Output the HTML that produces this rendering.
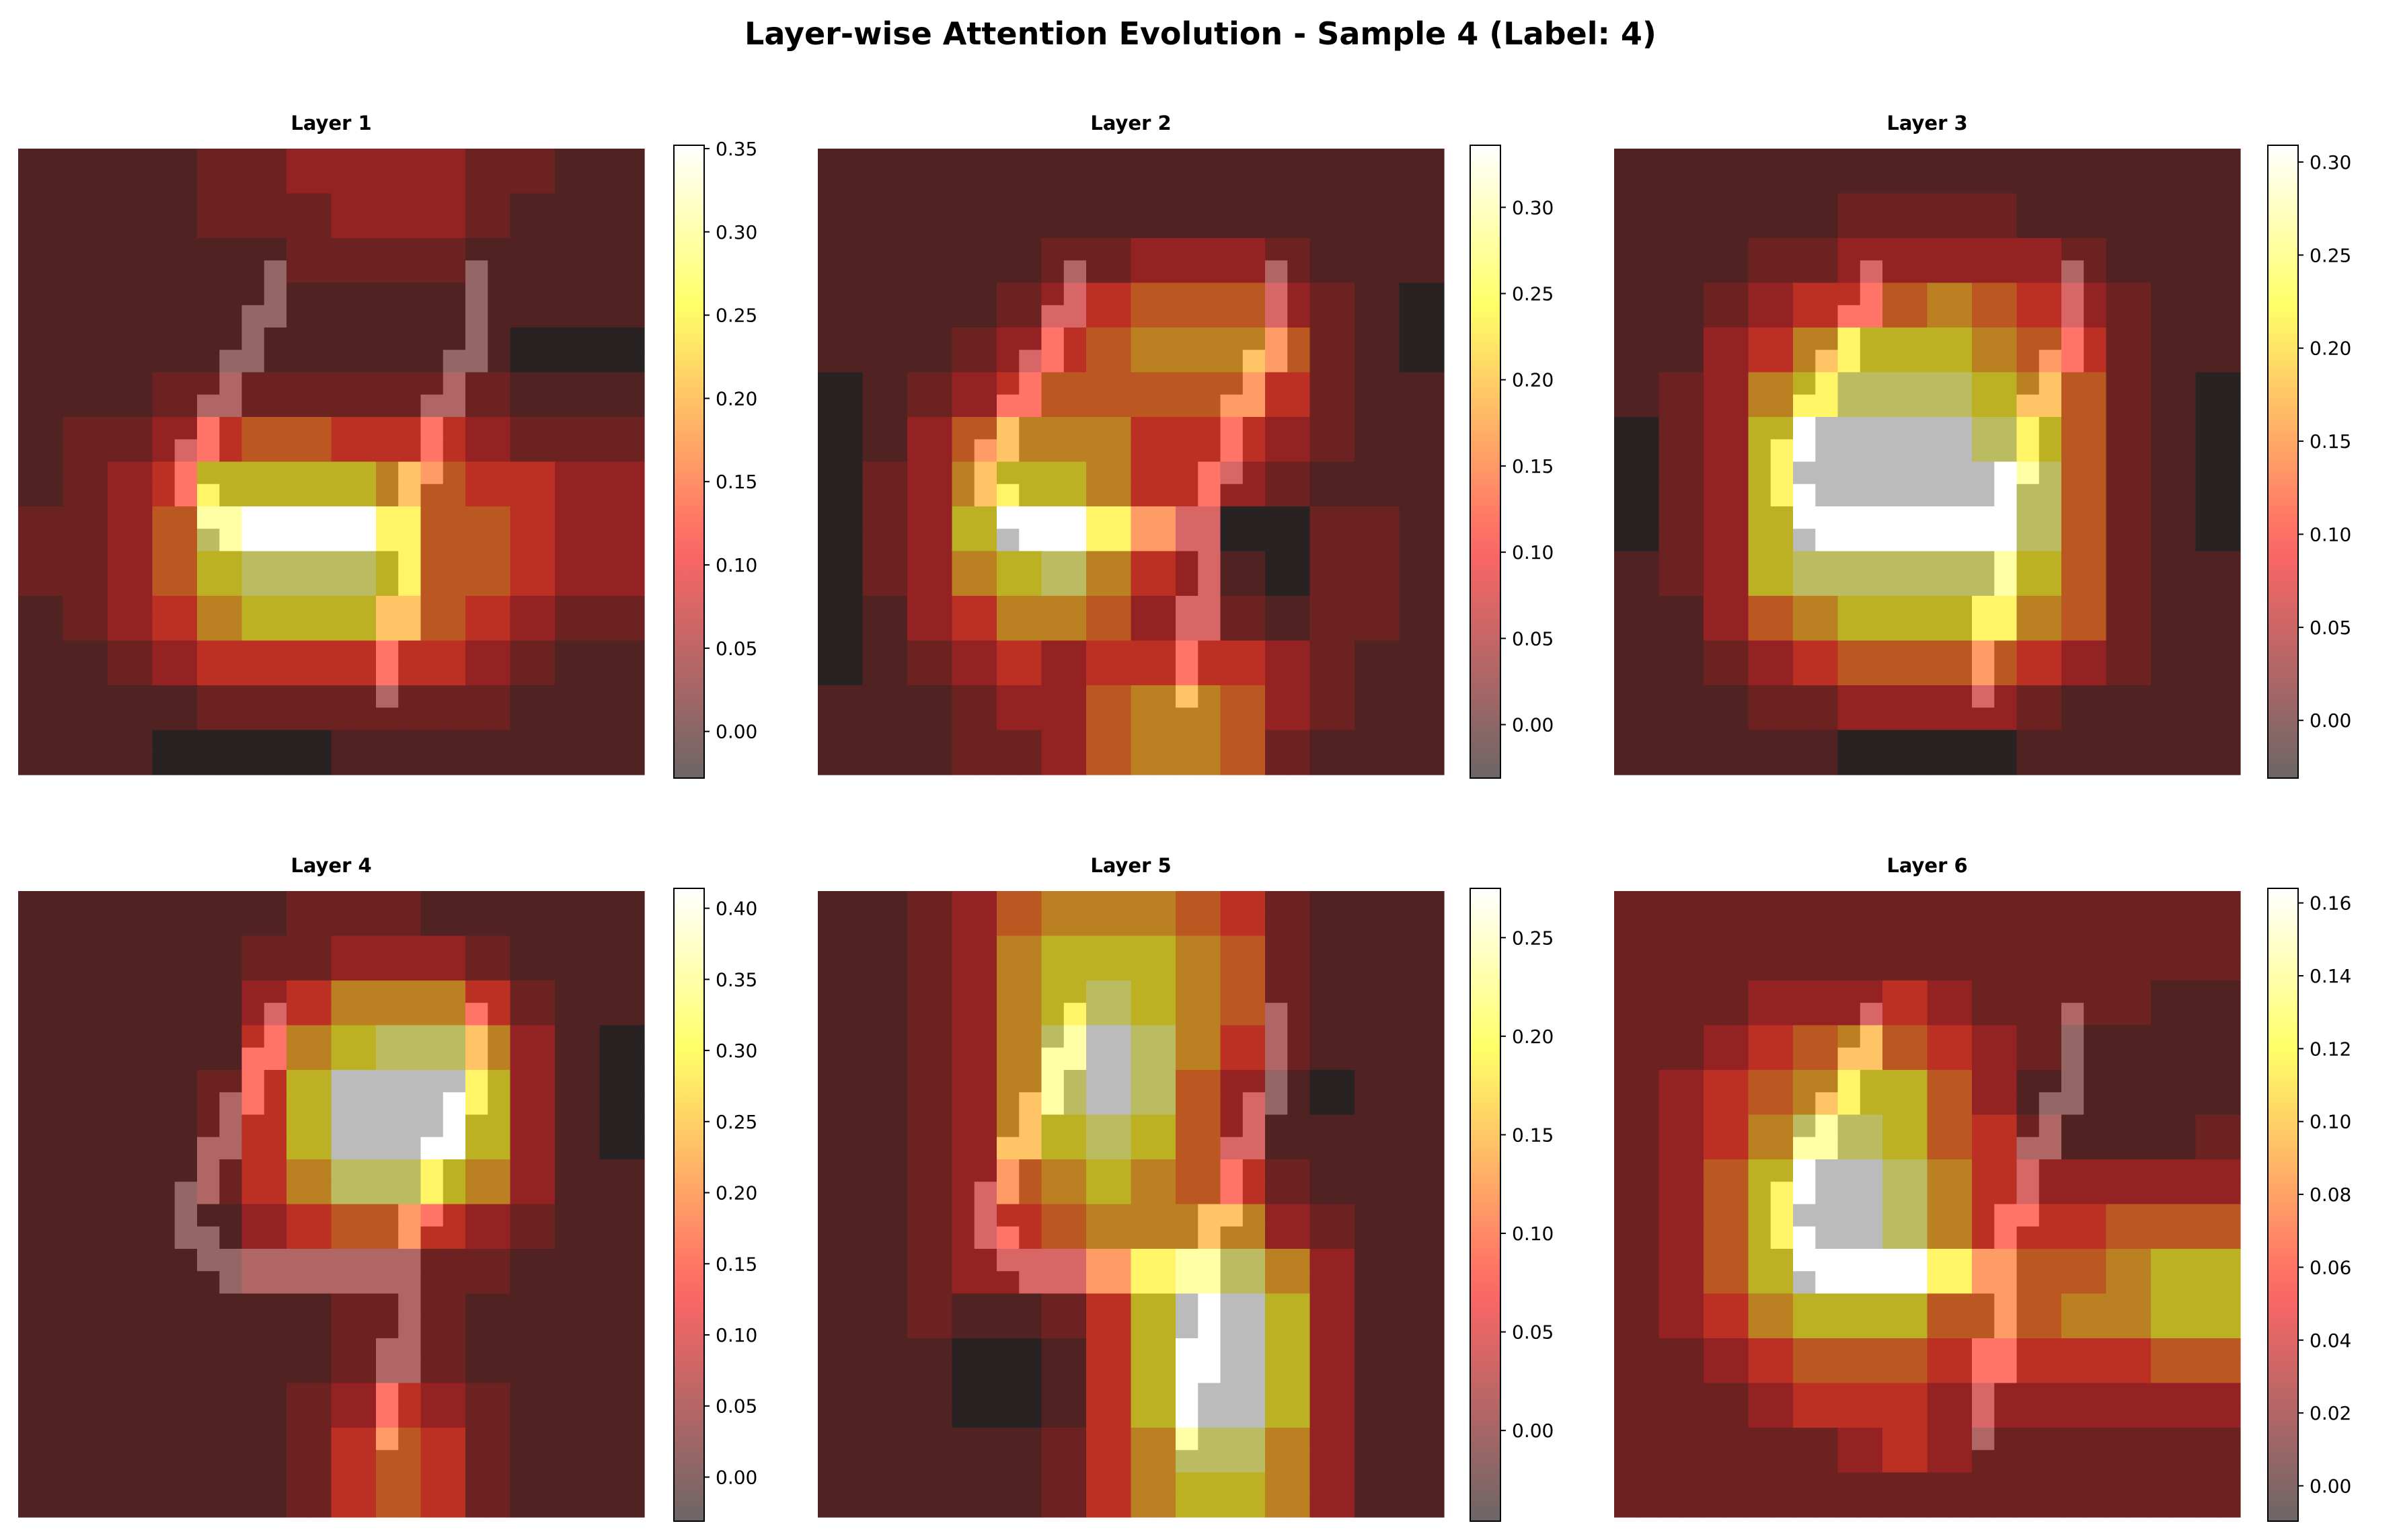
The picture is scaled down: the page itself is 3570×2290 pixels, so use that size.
<!DOCTYPE html>
<html><head><meta charset="utf-8"><style>
html,body{margin:0;padding:0;background:#fff;}
svg{display:block;font-family:"DejaVu Sans","Liberation Sans",sans-serif;}
</style></head><body>
<svg id="fig" width="3570" height="2290" viewBox="0 0 3570 2290" xmlns="http://www.w3.org/2000/svg">
<text x="1785" y="66" text-anchor="middle" font-size="46" font-weight="bold">Layer-wise Attention Evolution - Sample 4 (Label: 4)</text>
<defs id="defs"></defs>
</svg>
<script>
const layerTitles=["Layer 1","Layer 2","Layer 3","Layer 4","Layer 5","Layer 6"];
const vmins=[-0.028,-0.031,-0.031,-0.031,-0.046,-0.0097];
const vmaxs=[0.352,0.336,0.309,0.414,0.275,0.164];
const tickSteps=[0.05,0.05,0.05,0.05,0.05,0.02];
const levelT=[0,0.1,0.17,0.27,0.4,0.5,0.6,0.72,0.85,1];
const heat1=["11112233332211","11112223332111","11111122221111","11111111111111","11111111111000","11122222222111","12234554443222","12347777654433","22358999755433","22357888755433","12346777654322","11234444443211","11112222222111","11100001111111"];
const heat2=["11111111111111","11111111111111","11111223332111","11112345553210","11123456665210","01234555554211","01356664443211","02367764432111","02379975300221","02367864310221","01346653321221","01234344443211","11123356653211","11122356652111"];
const heat3=["11111111111111","11111222211111","11122333332111","11234456543211","11346777654211","12367888765210","02379999875210","02379999985210","02379999985210","12378888875211","11356777765211","11234555543211","11122333321111","11111000011111"];
const heat4=["11111122211111","11111223332111","11111346664211","11111467886310","11112479997310","11112479997310","11112468876311","11111345543211","11111222222111","11111112221111","11111112221111","11111123432111","11111124542111","11111124542111"];
const heat5=["11235666542111","11236777652111","11236787652111","11236898642111","11236898531011","11236787531111","11235676542111","11234566663211","11233357886311","11211247997311","11100147997311","11100147997311","11111246886311","11111246776311"];
const heat6=["22222222222222","22222222222222","22233343222211","22345654321111","23456775311111","23468875421112","23579986433333","23579986444555","23579997555677","23467775556677","22345554444455","22234443333333","22222343222222","22222222222222"];
const heats=[heat1,heat2,heat3,heat4,heat5,heat6];
const digitMask=[
"............................",
"............................",
"............................",
"............................",
"............................",
"...........#........#.......",
"...........#........#.......",
"..........##........#.......",
"..........#.........#.......",
".........##........##.......",
".........#.........#........",
"........##........##........",
"........#.........#.........",
".......##.........#.........",
".......#.........##.........",
".......##........#..........",
"........##########..........",
".........#########..........",
".................#..........",
".................#..........",
"................##..........",
"................##..........",
"................#...........",
"................#...........",
"................#...........",
"............................",
"............................",
"............................"];

const NS="http://www.w3.org/2000/svg";
const svg=document.getElementById('fig');
const defs=document.getElementById('defs');
const panelX=[27,1216,2400];
const panelY=[221,1325];
const cbX=[1002,2186,3372];
const cbTop=[216,1321];
const cbH=941;
const imgSize=931;

function hot(t){
  t=Math.max(0,Math.min(1,t));
  const r=Math.min(1,0.0416+t*(1-0.0416)/0.365);
  const g=Math.max(0,Math.min(1,(t-0.365)/(0.746-0.365)));
  const b=Math.max(0,Math.min(1,(t-0.746)/(1-0.746)));
  return [r,g,b];
}
function mix(c,bg){return 'rgb('+c.map(v=>Math.round(0.6*v*255+0.4*bg)).join(',')+')';}
function mk(tag,attrs){const e=document.createElementNS(NS,tag);for(const k in attrs)e.setAttribute(k,attrs[k]);return e;}

for(let p=0;p<6;p++){
  const x0=panelX[p%3], y0=panelY[Math.floor(p/3)];
  const g=mk('g',{});
  
  
  svg.appendChild(g);
  const cw=imgSize/28;
  const hm=heats[p];
  for(let r=0;r<28;r++){
    for(let c=0;c<28;c++){
      const lvl=+hm[r>>1][c>>1];
      const col=hot(levelT[lvl]);
      const bg=digitMask[r][c]==='#'?255:85;
      const rect=mk('rect',{x:(x0+c*cw).toFixed(2),y:(y0+r*cw).toFixed(2),width:(cw+0.6).toFixed(2),height:(cw+0.6).toFixed(2),fill:mix(col,bg)});
      
      
      g.appendChild(rect);
    }
  }
  const title=mk('text',{x:x0+imgSize/2,y:y0-28,'text-anchor':'middle','font-size':'29','font-weight':'bold'});
  
  
  title.textContent=layerTitles[p];
  svg.appendChild(title);

  const cx=cbX[p%3], cy=cbTop[Math.floor(p/3)];
  const grad=mk('linearGradient',{id:'cg'+p,x1:0,y1:1,x2:0,y2:0});
  for(let i=0;i<=20;i++){
    const t=i/20;
    grad.appendChild(mk('stop',{offset:t,'stop-color':mix(hot(t),255)}));
  }
  defs.appendChild(grad);
  const cb=mk('rect',{x:cx,y:cy,width:45,height:cbH,fill:'url(#cg'+p+')',stroke:'#000','stroke-width':2});
  
  
  svg.appendChild(cb);
  const vmin=vmins[p], vmax=vmaxs[p], st=tickSteps[p];
  const yOf=v=>cy+cbH-(v-vmin)/(vmax-vmin)*cbH;
  for(let k=Math.ceil(vmin/st-1e-6);k*st<=vmax+1e-9;k++){
    const v=k*st;
    const y=yOf(v);
    svg.appendChild(mk('line',{x1:cx+45,x2:cx+53,y1:y,y2:y,stroke:'#000','stroke-width':2}));
    const lbl=mk('text',{x:cx+62,y:y+10,'font-size':'28'});
    
    
    lbl.textContent=(Math.abs(v)<1e-9?0:v).toFixed(2);
    svg.appendChild(lbl);
  }
}
</script>
</body></html>
